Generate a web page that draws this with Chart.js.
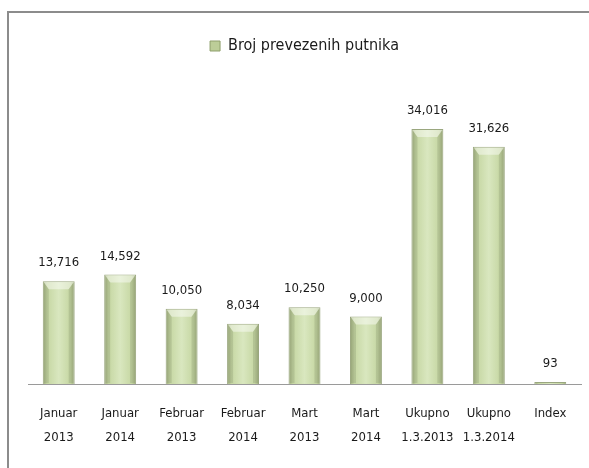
<!DOCTYPE html>
<html>
<head>
<meta charset="utf-8">
<script src="https://cdn.jsdelivr.net/npm/chart.js@4/dist/chart.umd.min.js"></script>
<style>
  html, body { margin: 0; padding: 0; background: #ffffff; }
  body { width: 589px; height: 468px; position: relative; overflow: hidden; }
  #wrap { position: absolute; left: 7px; top: 11px; width: 582px; height: 457px;
          border-top: 2px solid #8c8c8c; border-left: 2px solid #8c8c8c; box-sizing: border-box; }
  #inner { position: absolute; left: 0; top: 0; width: 580px; height: 455px; }
</style>
</head>
<body>
<div id="wrap"><div id="inner"><canvas id="c"></canvas></div></div>
<script>
const categories = [
  ["Januar", "2013"], ["Januar", "2014"], ["Februar", "2013"], ["Februar", "2014"],
  ["Mart", "2013"], ["Mart", "2014"], ["Ukupno", "1.3.2013"], ["Ukupno", "1.3.2014"], ["Index"]
];
const seriesName = "Broj prevezenih putnika";
const passengers = [13716, 14592, 10050, 8034, 10250, 9000, 34016, 31626, 93];

const FONT = "'DejaVu Sans Condensed', 'Liberation Sans', Arial, sans-serif";
const BAR_PCT = 0.52;

function barFill(ctx) {
  const chart = ctx.chart;
  const xs = chart.scales && chart.scales.x;
  if (ctx.dataIndex === undefined || !xs) return '#c4d6a0';
  const cx = xs.getPixelForValue(ctx.dataIndex);
  const w = (xs.width / categories.length) * BAR_PCT;
  if (!isFinite(cx) || !isFinite(w) || w <= 0) return '#c4d6a0';
  const g = chart.ctx.createLinearGradient(cx - w / 2, 0, cx + w / 2, 0);
  g.addColorStop(0, '#a2b080');
  g.addColorStop(0.14, '#c6d7a3');
  g.addColorStop(0.5, '#d9e7bf');
  g.addColorStop(0.86, '#c6d7a3');
  g.addColorStop(1, '#a2b080');
  return g;
}

const bevelPlugin = {
  id: 'bevel',
  afterDatasetsDraw(chart) {
    const c = chart.ctx;
    const meta = chart.getDatasetMeta(0);
    c.save();
    meta.data.forEach((el) => {
      const p = el.getProps(['x', 'y', 'base', 'width'], true);
      const l = p.x - p.width / 2, r = p.x + p.width / 2, t = p.y, b = p.base;
      const h = b - t;
      const d = Math.min(6, h / 2);
      if (h < 3) return;
      c.fillStyle = 'rgba(255,255,255,0.45)';
      c.beginPath();
      c.moveTo(l + 1, t + 1); c.lineTo(r - 1, t + 1); c.lineTo(r - d, t + d + 2); c.lineTo(l + d, t + d + 2);
      c.closePath(); c.fill();
      c.fillStyle = 'rgba(90,100,70,0.18)';
      c.beginPath();
      c.moveTo(l + 1, t + 1); c.lineTo(l + d, t + d + 2); c.lineTo(l + d, b - 1); c.lineTo(l + 1, b - 1);
      c.closePath(); c.fill();
      c.beginPath();
      c.moveTo(r - 1, t + 1); c.lineTo(r - d, t + d + 2); c.lineTo(r - d, b - 1); c.lineTo(r - 1, b - 1);
      c.closePath(); c.fill();
    });
    c.restore();
  }
};

const valueLabels = {
  id: 'valueLabels',
  afterDatasetsDraw(chart) {
    const c = chart.ctx;
    const meta = chart.getDatasetMeta(0);
    c.save();
    c.font = "13px " + FONT;
    c.fillStyle = '#1a1a1a';
    c.textAlign = 'center';
    c.textBaseline = 'alphabetic';
    meta.data.forEach((el, i) => {
      const p = el.getProps(['x', 'y'], true);
      c.fillText(passengers[i].toLocaleString('en-US'), p.x, p.y - 15);
    });
    c.restore();
  }
};

const legendSpacer = {
  id: 'legendSpacer',
  beforeLayout(chart) {
    const lg = chart.legend;
    if (lg && !lg._spacerPatched) {
      const orig = lg.fit;
      lg.fit = function () { orig.call(this); this.height += 20; };
      lg._spacerPatched = true;
    }
  }
};

new Chart(document.getElementById('c'), {
  type: 'bar',
  data: {
    labels: categories,
    datasets: [{
      label: seriesName,
      data: passengers,
      backgroundColor: barFill,
      borderColor: '#9aa77f',
      borderWidth: 1,
      barPercentage: BAR_PCT,
      categoryPercentage: 1,
      minBarLength: 2
    }]
  },
  options: {
    responsive: true,
    maintainAspectRatio: false,
    animation: false,
    layout: { padding: { top: 16, left: 19, right: 8, bottom: 0 } },
    plugins: {
      tooltip: { enabled: false },
      legend: {
        position: 'top',
        labels: {
          color: '#1a1a1a',
          font: { family: FONT, size: 16 },
          boxWidth: 10,
          boxHeight: 10,
          padding: 9,
          generateLabels(chart) {
            const items = Chart.defaults.plugins.legend.labels.generateLabels(chart);
            items.forEach((it) => { it.fillStyle = '#bccd98'; it.strokeStyle = '#8f9f6c'; it.lineWidth = 1; });
            return items;
          }
        }
      }
    },
    scales: {
      x: {
        grid: { display: false, drawTicks: false },
        border: { display: true, color: '#9a9a9a', width: 1 },
        ticks: {
          color: '#1a1a1a',
          font: { family: FONT, size: 13, lineHeight: 1.85 },
          padding: 18,
          maxRotation: 0,
          autoSkip: false
        },
        afterFit(scale) { scale.height = 84; }
      },
      y: {
        display: false,
        min: 0,
        max: 40000
      }
    }
  },
  plugins: [legendSpacer, bevelPlugin, valueLabels]
});
</script>
</body>
</html>
